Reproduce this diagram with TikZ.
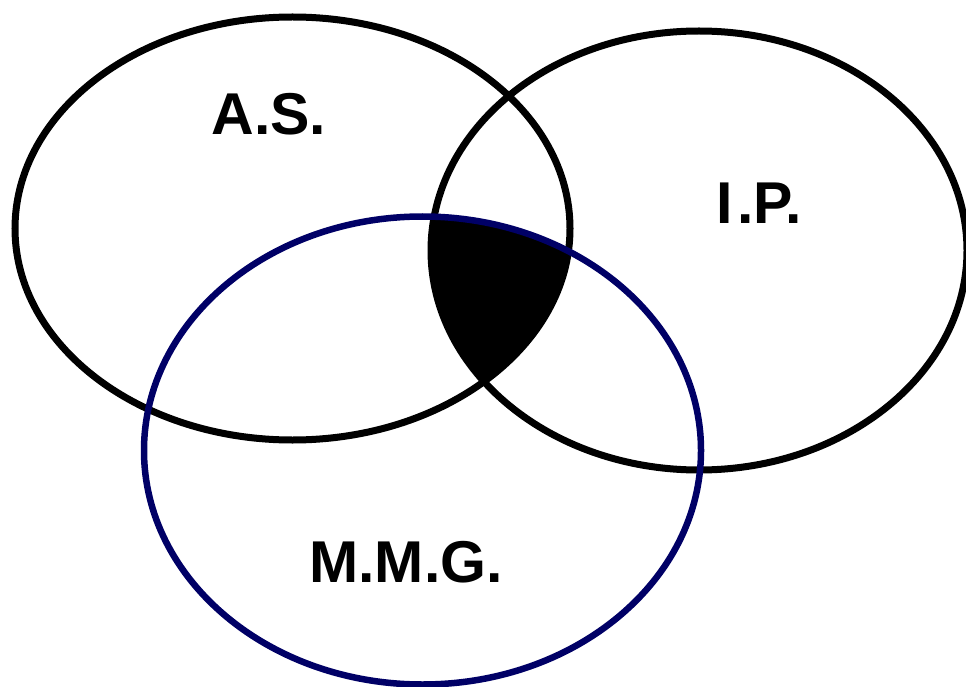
\documentclass[tikz,border=0pt]{standalone}
\usepackage{fontspec}
\setmainfont{Liberation Sans}
\definecolor{navyline}{RGB}{0,0,102}
\begin{document}
\begin{tikzpicture}[x=1pt,y=-1pt,
  ring/.style={line width=7pt,draw=black},
  navyring/.style={line width=6.5pt,draw=navyline},
  lbl/.style={anchor=base,inner sep=0pt,font=\fontsize{59}{62}\selectfont\bfseries}]
\useasboundingbox (0,0) rectangle (966,687);
\coordinate (as) at (292.5,228.5);
\coordinate (ip) at (699,250.5);
\coordinate (mmg) at (422.5,450.5);
% shaded triple intersection
\begin{scope}
  \clip (as) ellipse [x radius=277.5, y radius=211.5];
  \clip (ip) ellipse [x radius=268, y radius=219.5];
  \clip (mmg) ellipse [x radius=278.5, y radius=234];
  \fill[black] (0,0) rectangle (966,687);
\end{scope}
\draw[ring] (as) ellipse [x radius=277.5, y radius=211.5];
\draw[ring] (ip) ellipse [x radius=268, y radius=219.5];
\draw[navyring] (mmg) ellipse [x radius=278.5, y radius=234];
\node[lbl] (las) at (269,135) {A.S.};
\node[lbl] (lip) at (759,223) {I\kern5pt.P.};
\node[lbl] (lmmg) at (406,582) {M.M.G.};
\end{tikzpicture}
\end{document}
